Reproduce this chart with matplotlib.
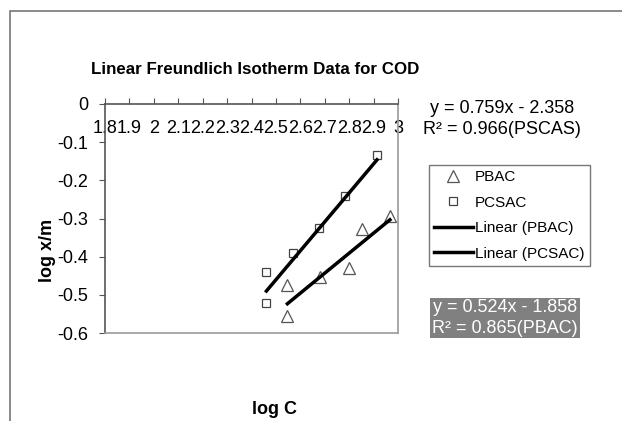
import matplotlib
matplotlib.use("Agg")
import matplotlib.pyplot as plt
from matplotlib.patches import Rectangle
from matplotlib.ticker import FuncFormatter
import numpy as np

plt.rcParams["font.family"] = ["Liberation Sans", "DejaVu Sans"]
plt.rcParams["axes.unicode_minus"] = False

# data
pbac_x = [2.547, 2.547, 2.682, 2.800, 2.853, 2.967]
pbac_y = [-0.555, -0.474, -0.453, -0.429, -0.327, -0.293]
pcsac_x = [2.461, 2.461, 2.571, 2.678, 2.784, 2.914]
pcsac_y = [-0.521, -0.440, -0.390, -0.325, -0.241, -0.134]

# trendline coefficients (slope, intercept)
pbac_fit = [0.524, -1.858]
pcsac_fit = [0.759, -2.358]

fig = plt.figure(figsize=(6.22, 4.21), dpi=100)
ax = fig.add_axes([105 / 622, 1 - 333 / 421, 293 / 622, 229 / 421])

ax.plot(pbac_x, pbac_y, "^", ms=8, mfc="none", mec="#555555", mew=0.9, label="PBAC")
ax.plot(pcsac_x, pcsac_y, "s", ms=6, mfc="none", mec="#444444", mew=0.9, label="PCSAC")

xa = np.array([min(pbac_x), max(pbac_x)])
ax.plot(xa, np.polyval(pbac_fit, xa), color="black", lw=2.5, label="Linear (PBAC)")
xb = np.array([min(pcsac_x), max(pcsac_x)])
ax.plot(xb, np.polyval(pcsac_fit, xb), color="black", lw=2.5, label="Linear (PCSAC)")

ax.set_xlim(1.8, 3.0)
ax.set_ylim(-0.6, 0)
ax.set_xticks(np.arange(18, 31) / 10)
ax.set_yticks(np.arange(-6, 1) / 10)
ax.xaxis.set_major_formatter(FuncFormatter(lambda v, p: "%g" % round(v, 1)))
ax.yaxis.set_major_formatter(FuncFormatter(lambda v, p: "%g" % round(v, 1)))
ax.xaxis.tick_top()
ax.tick_params(axis="x", direction="out", length=4, pad=-28, labelsize=13, color="#555555")
ax.tick_params(axis="y", direction="out", length=4, pad=8, labelsize=13, color="#555555")

ax.spines["top"].set_color("#555555")
ax.spines["left"].set_color("#555555")
ax.spines["right"].set_color("#999999")
ax.spines["bottom"].set_color("#999999")
for s in ax.spines.values():
    s.set_linewidth(1.2)

fig.text(255 / 622, 1 - 70 / 421, "Linear Freundlich Isotherm Data for COD",
         ha="center", va="center", fontsize=12.2, fontweight="bold")
fig.text(47 / 622, 1 - 250 / 421, "log x/m", rotation=90, ha="center", va="center",
         fontsize=13, fontweight="bold")
fig.text(275 / 622, 1 - 409 / 421, "log C", ha="center", va="center",
         fontsize=13, fontweight="bold")

fig.text(502 / 622, 1 - 119 / 421, "y = 0.759x - 2.358\nR² = 0.966(PSCAS)",
         ha="center", va="center", fontsize=13, linespacing=1.3)
fig.text(505 / 622, 1 - 318 / 421, "y = 0.524x - 1.858\nR² = 0.865(PBAC)",
         ha="center", va="center", fontsize=13, color="white", linespacing=1.25,
         bbox=dict(facecolor="#808080", edgecolor="none", boxstyle="square,pad=0.1"))

leg = fig.legend(loc="upper left", bbox_to_anchor=(429 / 622, 1 - 165 / 421),
                 borderaxespad=0, fancybox=False, edgecolor="#777777", fontsize=11,
                 handlelength=2.5, handletextpad=0.15, labelspacing=0.75,
                 borderpad=0.35, framealpha=1)
leg.get_frame().set_linewidth(1.0)

fig.patches.append(Rectangle((10 / 622, -0.1), 1.2, 1 - 11 / 421 + 0.1,
                             transform=fig.transFigure, fill=False,
                             edgecolor="#777777", lw=1.2))

fig.savefig("out.png", dpi=100)
